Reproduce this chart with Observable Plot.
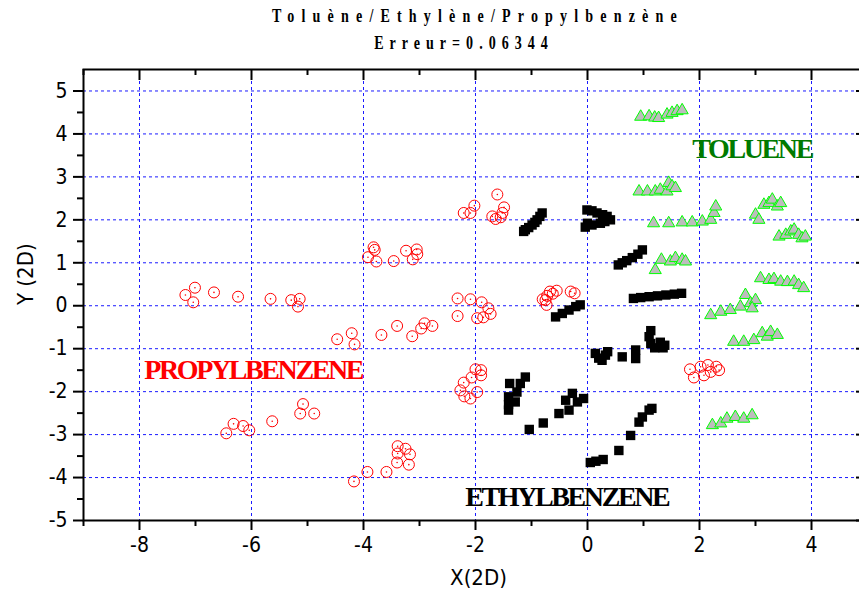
<!DOCTYPE html>
<html><head><meta charset="utf-8">
<script src="https://cdn.jsdelivr.net/npm/d3@7"></script>
<script src="https://cdn.jsdelivr.net/npm/@observablehq/plot@0.6"></script>
<style>
html,body{margin:0;padding:0;background:#fff;overflow:hidden;width:859px;height:597px}
#wrap{position:relative;width:870px}
#head{position:relative;height:55px}
.t{position:absolute;font-family:"Liberation Serif","Times New Roman",serif;font-weight:bold;font-size:18px;white-space:nowrap;line-height:1;transform:translateX(-50%) scaleX(0.78);transform-origin:50% 50%;color:#000}
</style></head>
<body>
<div id="wrap">
<div id="head">
<div class="t" style="left:478px;top:7px;letter-spacing:9.2px">Toluène/Ethylène/Propylbenzène</div>
<div class="t" style="left:464px;top:34px;letter-spacing:7.7px">Erreur=0.06344</div>
</div>
<div id="chart"></div>
</div>
<script>
// Propylbenzene (red open circles)
const propylX = [-7.18,-7.01,-7.04,-6.67,-6.24,-5.66,-5.29,-5.14,-5.17, -4.47,-4.21,-4.16, -5.08,-5.13,-4.88,-5.63,-6.32,-6.15,-6.04,-6.45, -4.17, -3.82,-3.80,-3.92,-3.77,-3.46,-3.24,-3.05,-3.04,-3.12, -3.68,-3.40,-3.13,-2.97,-2.91,-2.77, -2.32,-2.09,-1.89,-2.32,-1.97,-1.86,-1.73,-1.77, -2.21,-2.09,-2.02,-1.61,-1.49,-1.70,-1.64,-1.55,-1.52, -2.00,-1.90,-2.07,-1.90,-2.21,-2.27,-2.20,-2.09,-1.97, -3.39,-3.25,-3.17,-3.39,-3.40,-3.19,-3.93,-3.59, -0.55,-0.67,-0.72,-0.75,-0.73,-0.23,-0.30,-0.80,-0.62, 1.83,2.02,2.15,2.30,2.35,1.90,2.08,2.20];
const propylY = [0.25,0.42,0.08,0.31,0.21,0.16,0.13,0.16,-0.02, -0.78,-0.64,-0.90, -2.29,-2.51,-2.51,-2.69,-2.75,-2.80,-2.90,-2.97, -4.09, 1.36,1.30,1.13,1.03,1.04,1.28,1.31,1.20,1.08, -0.68,-0.47,-0.71,-0.53,-0.41,-0.47, 0.17,0.15,0.08,-0.24,-0.29,-0.27,-0.19,-0.06, 2.16,2.16,2.33,2.59,2.29,2.08,2.02,2.06,2.16, -1.48,-1.50,-1.67,-1.62,-1.79,-1.97,-2.11,-2.16,-2.01, -3.27,-3.33,-3.46,-3.44,-3.65,-3.70,-3.87,-3.87, 0.35,0.33,0.23,0.13,0.02,0.29,0.33,0.15,0.28, -1.48,-1.42,-1.38,-1.42,-1.50,-1.67,-1.62,-1.54];

// Ethylbenzene (black squares)
const ethylX = [-1.14,-1.11,-1.05,-0.99,-0.94,-0.90,-0.85,-0.81, -0.01,0.08,0.17,0.27,0.35,0.41,0.31,0.23,0.08,-0.04,0.00, 0.55,0.62,0.70,0.80,0.90,0.98, 0.82,0.95,1.10,1.25,1.40,1.55,1.68, -0.57,-0.45,-0.33,-0.21,-0.13, 1.13,1.10,1.13,1.20,1.30,1.35,1.38, 0.14,0.20,0.26,0.32,0.36, 0.62,0.86,0.86, -0.27,-0.39,-0.18,-0.07,-0.33,-0.51,-0.79,-1.04, -1.39,-1.11,-1.20,-1.26,-1.41,-1.41,-1.29,-1.41, 1.15,1.10,0.98,0.92,0.77,0.56,0.28,0.15,0.05];
const ethylY = [1.73,1.77,1.82,1.88,1.94,2.00,2.08,2.16, 2.23,2.21,2.16,2.12,2.08,2.00,1.96,1.92,1.88,1.83,1.92, 0.95,1.00,1.05,1.12,1.20,1.30, 0.17,0.19,0.21,0.23,0.25,0.27,0.29, -0.26,-0.18,-0.10,-0.02,0.02, -0.58,-0.72,-0.88,-0.98,-0.85,-0.98,-0.92, -1.11,-1.22,-1.27,-1.15,-1.07, -1.19,-1.03,-1.23, -2.04,-2.20,-2.24,-2.16,-2.43,-2.51,-2.73,-2.88, -1.81,-1.66,-1.81,-2.01,-2.12,-2.43,-2.24,-2.30, -2.39,-2.43,-2.59,-2.71,-3.02,-3.37,-3.58,-3.62,-3.65];

// Toluene (grey triangles, green outline)
const tolueneX = [0.95,1.10,1.20,1.27,1.42,1.51,1.60,1.69, 0.92,1.07,1.21,1.30,1.42,1.45,1.51,1.57, 1.18,1.45,1.69,1.87,2.05,2.20,2.26,2.29, 1.21,1.32,1.48,1.57,1.69,1.75, 3.42,3.54,3.63,3.69,3.77,3.83,3.89, 3.00,3.06,3.15,3.24,3.30,3.39,3.45, 3.09,3.24,3.33,3.45,3.57,3.69,3.77,3.86, 2.20,2.38,2.55,2.73,2.82,2.91,3.00,2.94, 2.61,2.79,2.97,3.12,3.21,3.27,3.39, 2.23,2.38,2.49,2.64,2.79,2.94];
const tolueneY = [4.40,4.41,4.38,4.37,4.45,4.49,4.53,4.55, 2.66,2.66,2.66,2.70,2.66,2.86,2.78,2.74, 1.92,1.92,1.94,1.94,1.96,2.00,2.16,2.31, 0.83,1.07,1.03,1.11,1.07,1.03, 1.61,1.65,1.73,1.77,1.65,1.57,1.61, 2.12,2.00,2.35,2.39,2.47,2.31,2.39, 0.64,0.60,0.62,0.56,0.55,0.56,0.48,0.41, -0.22,-0.14,-0.10,-0.02,0.25,0.06,0.13,-0.06, -0.84,-0.84,-0.80,-0.64,-0.72,-0.61,-0.68, -2.78,-2.74,-2.63,-2.59,-2.63,-2.55];

// Ticks
const xMajor = [-8,-6,-4,-2,0,2,4];
const xMinor = [-9,-7,-5,-3,-1,1,3,5];
const yMajor = [-5,-4,-3,-2,-1,0,1,2,3,4,5];
const yMinor = [-4.5,-3.5,-2.5,-1.5,-0.5,0.5,1.5,2.5,3.5,4.5];
const yGrid = [-4,-3,-2,-1,0,1,2,3,4,5];

// Series annotations
const labelText = ["TOLUENE","PROPYLBENZENE","ETHYLBENZENE"];
const labelX = [2.94,-5.97,-0.37];
const labelY = [3.66,-1.50,-4.46];
const labelColor = ["#007a00","#ff0000","#000000"];

const toRows = (xs, ys) => xs.map((x, i) => ({x, y: ys[i]}));
const propyl = toRows(propylX, propylY);
const ethyl = toRows(ethylX, ethylY);
const toluene = toRows(tolueneX, tolueneY);
const labels = labelText.map((t, i) => ({t, x: labelX[i], y: labelY[i], c: labelColor[i]}));

const sans = "'Liberation Sans Narrow','Arial Narrow','DejaVu Sans Condensed',sans-serif";
const W = 870, H = 542, mL = 83, mR = 3, mT = 14, mB = 77;
const plotW = W - mL - mR, plotH = H - mT - mB;

const chart = Plot.plot({
  width: W, height: H,
  marginLeft: mL, marginRight: mR, marginTop: mT, marginBottom: mB,
  x: {domain: [-9, 5], label: null},
  y: {domain: [-5, 5.5], label: null},
  style: {background: "white", overflow: "visible", color: "black"},
  marks: [
    Plot.ruleX(xMajor, {x: d => d, stroke: "#1a1aff", strokeWidth: 1, strokeDasharray: "3,3"}),
    Plot.ruleY(yGrid, {y: d => d, stroke: "#1a1aff", strokeWidth: 1, strokeDasharray: "3,3"}),
    Plot.dot(ethyl, {x: "x", y: "y", symbol: "square", r: 5.3, fill: "black"}),
    Plot.dot(propyl, {x: "x", y: "y", r: 5.5, stroke: "#ff0000", fill: "none", strokeWidth: 1}),
    Plot.dot(propyl, {x: "x", y: "y", r: 0.8, fill: "#ff0000"}),
    Plot.dot(toluene, {x: "x", y: "y", symbol: "triangle", r: 4.5, fill: "#bdbdbd", stroke: "#00ff00", strokeWidth: 1}),
    Plot.text(labels, {x: "x", y: "y", text: "t", fill: "c", fontFamily: "'Liberation Serif','Times New Roman',serif", fontWeight: "bold", fontSize: 28, textAnchor: "middle", lineAnchor: "middle"}),
    Plot.frame({stroke: "black", strokeWidth: 2}),
    Plot.axisX(xMajor, {anchor: "bottom", tickSize: 10, tickPadding: 7, strokeWidth: 2, fontSize: 21, fontFamily: sans, tickFormat: d => String(d)}),
    Plot.axisX(xMinor, {anchor: "bottom", tickSize: 6, strokeWidth: 2, tickFormat: () => ""}),
    Plot.axisY(yMajor, {anchor: "left", tickSize: 10, tickPadding: 6, strokeWidth: 2, fontSize: 21, fontFamily: sans, tickFormat: d => String(d)}),
    Plot.axisY(yMinor, {anchor: "left", tickSize: 6, strokeWidth: 2, tickFormat: () => ""}),
    Plot.tickX(xMajor, {x: d => d, stroke: "black", strokeWidth: 2, insetBottom: plotH - 11}),
    Plot.tickX(xMinor, {x: d => d, stroke: "black", strokeWidth: 2, insetBottom: plotH - 6}),
    Plot.tickY(yMajor, {y: d => d, stroke: "black", strokeWidth: 2, insetLeft: plotW - 11}),
    Plot.text(["X(2D)"], {frameAnchor: "bottom", text: d => d, dx: 3, dy: 64, fontSize: 22, fontFamily: sans, fill: "black"}),
    Plot.text(["Y (2D)"], {frameAnchor: "left", text: d => d, dx: -58, dy: 10, rotate: -90, fontSize: 22, fontFamily: sans, fill: "black"})
  ]
});
// tighten the series labels (condensed look of the original)
d3.select(chart).selectAll("text").each(function () {
  if (labelText.includes(this.textContent)) this.style.letterSpacing = "-2.4px";
});
document.getElementById("chart").appendChild(chart);
</script>
</body></html>
